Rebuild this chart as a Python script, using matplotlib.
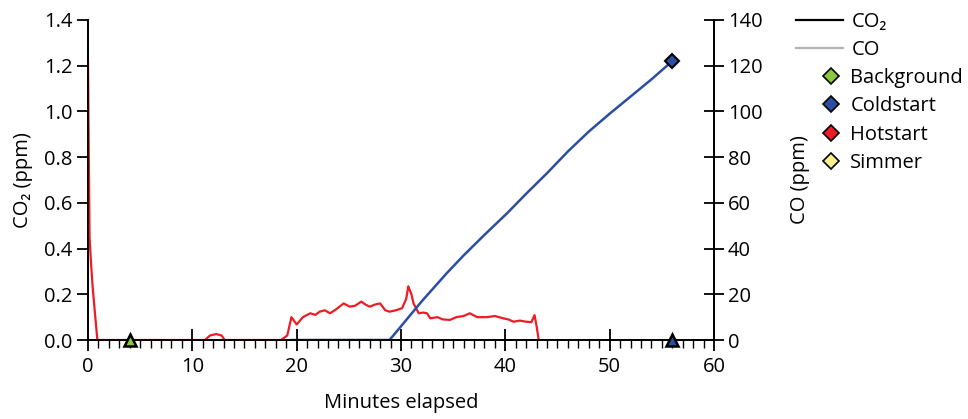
import numpy as np
import matplotlib.pyplot as plt
from matplotlib.lines import Line2D
from matplotlib.ticker import MultipleLocator

plt.rcParams['font.family'] = ['Open Sans', 'DejaVu Sans']
plt.rcParams['font.size'] = 14.5

# hotstart trace (CO2, ppm)
hot_t = [0.0, 0.05, 0.1, 0.15, 0.3, 0.45, 0.7, 0.9, 11.2, 11.7, 12.3, 12.8, 13.1,
         18.5, 18.8, 19.1, 19.5, 20.0, 20.6, 21.3, 21.8, 22.2, 22.7, 23.2, 23.8,
         24.5, 25.1, 25.6, 26.2, 26.6, 27.0, 27.5, 28.0, 28.5, 28.9, 29.5, 30.1,
         30.5, 30.7, 31.0, 31.2, 31.7, 32.1, 32.5, 32.8, 33.5, 34.0, 34.7, 35.3,
         36.0, 36.6, 37.3, 38.2, 39.0, 39.8, 40.3, 40.8, 41.4, 42.0, 42.5, 42.8, 43.0, 43.2]
hot_v = [1.22, 0.95, 0.7, 0.45, 0.33, 0.23, 0.1, 0.0, 0.0, 0.02, 0.026, 0.02, 0.0,
         0.0, 0.01, 0.02, 0.10, 0.068, 0.10, 0.117, 0.11, 0.124, 0.13, 0.117, 0.135,
         0.16, 0.146, 0.15, 0.168, 0.155, 0.146, 0.155, 0.16, 0.13, 0.124, 0.13, 0.139,
         0.18, 0.235, 0.2, 0.16, 0.117, 0.12, 0.117, 0.095, 0.1, 0.09, 0.088, 0.1,
         0.105, 0.117, 0.1, 0.1, 0.105, 0.095, 0.09, 0.08, 0.085, 0.08, 0.078, 0.109, 0.06, 0.0]

# coldstart trace (CO2, ppm)
cold_t = [19.5, 25.0, 28.9, 30.0, 32.0, 34.4, 36.0, 38.0, 40.2, 42.0, 44.0,
          46.0, 48.0, 50.0, 52.0, 54.0, 56.0]
cold_v = [0.0, 0.0, 0.0, 0.06, 0.17, 0.293, 0.37, 0.46, 0.556, 0.64, 0.73,
          0.825, 0.912, 0.99, 1.065, 1.14, 1.22]

# sample markers
bg_co_t, bg_co_v = [4.0], [0.0]
cold_co2_t, cold_co2_v = [56.0], [1.22]
cold_co_t, cold_co_v = [56.0], [0.0]

green = '#8dc63f'
blue = '#2b4ea2'
red = '#ee1c25'
yellow = '#fbf08c'

fig = plt.figure(figsize=(9.68, 4.19), dpi=100)
ax = fig.add_axes([0.0909, 0.1885, 0.6467, 0.7638])
ax2 = ax.twinx()

ax.plot(hot_t, hot_v, color=red, lw=1.6, zorder=3)
ax.plot(cold_t, cold_v, color=blue, lw=1.8, zorder=3)
ax.plot(cold_co2_t, cold_co2_v, 'D', ms=7, mfc=blue, mec='black', mew=1.5,
        zorder=5, clip_on=False)
ax2.plot(bg_co_t, bg_co_v, '^', ms=8, mfc=green, mec='black', mew=1.8,
         zorder=5, clip_on=False)
ax2.plot(cold_co_t, cold_co_v, '^', ms=8, mfc=blue, mec='black', mew=1.8,
         zorder=5, clip_on=False)

ax.set_xlim(0, 60)
ax.set_ylim(0, 1.4)
ax2.set_ylim(0, 140)

for a in (ax, ax2):
    a.spines['top'].set_visible(False)
    for s in a.spines.values():
        s.set_linewidth(1.3)

ax.xaxis.set_major_locator(MultipleLocator(10))
ax.xaxis.set_minor_locator(MultipleLocator(1))
ax.yaxis.set_major_locator(MultipleLocator(0.2))
ax.yaxis.set_major_formatter(plt.FormatStrFormatter('%.1f'))
ax2.yaxis.set_major_locator(MultipleLocator(20))

ax.tick_params(axis='x', which='major', direction='inout', length=16, width=1.3, pad=4)
ax.tick_params(axis='x', which='minor', direction='out', length=6, width=1.0)
ax.tick_params(axis='y', which='major', direction='out', length=8, width=1.3, pad=3)
ax2.tick_params(axis='y', which='major', direction='inout', length=14, width=1.3, pad=3)

ax.set_xlabel('Minutes elapsed', labelpad=12)
ax.set_ylabel('CO₂ (ppm)', labelpad=8)
ax2.set_ylabel('CO (ppm)', labelpad=20)

line_handles = [
    Line2D([], [], color='black', lw=1.6, label='CO₂'),
    Line2D([], [], color='#b4b4b4', lw=1.6, label='CO'),
]
marker_handles = [
    Line2D([], [], ls='none', marker='D', ms=8, mfc=green, mec='black', mew=1.2, label='Background'),
    Line2D([], [], ls='none', marker='D', ms=8, mfc=blue, mec='black', mew=1.2, label='Coldstart'),
    Line2D([], [], ls='none', marker='D', ms=8, mfc=red, mec='black', mew=1.2, label='Hotstart'),
    Line2D([], [], ls='none', marker='D', ms=8, mfc=yellow, mec='black', mew=1.2, label='Simmer'),
]
fig.legend(handles=line_handles, loc='upper left', bbox_to_anchor=(0.814, 0.99),
           frameon=False, handlelength=2.35, handletextpad=0.4, labelspacing=0.38,
           borderaxespad=0)
fig.legend(handles=marker_handles, loc='upper left', bbox_to_anchor=(0.841, 0.857),
           frameon=False, handlelength=0.85, handletextpad=0.55, labelspacing=0.42,
           borderaxespad=0)

fig.savefig('out.png', dpi=100)
